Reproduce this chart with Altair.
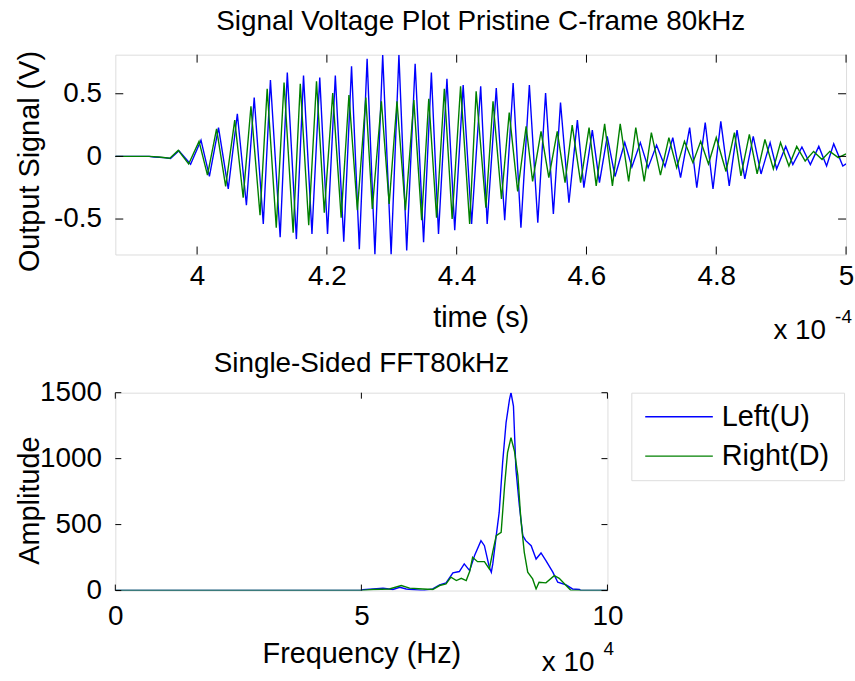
import altair as alt
import pandas as pd

# ---------------- data ----------------
# Top panel: time in units of 1e-4 s, output signal in V
left_t = [3.874, 3.926, 3.934, 3.949, 3.959, 3.972, 3.990, 4.006, 4.019, 4.033,
          4.048, 4.062, 4.076, 4.088, 4.102, 4.113, 4.128, 4.139, 4.153, 4.164,
          4.177, 4.189, 4.201, 4.213, 4.226, 4.238, 4.250, 4.262, 4.274, 4.286,
          4.299, 4.311, 4.323, 4.336, 4.349, 4.361, 4.372, 4.385, 4.397, 4.410,
          4.423, 4.437, 4.447, 4.461, 4.474, 4.487, 4.499, 4.512, 4.525, 4.537,
          4.549, 4.560, 4.573, 4.586, 4.596, 4.609, 4.620, 4.632, 4.644, 4.659,
          4.670, 4.683, 4.695, 4.708, 4.721, 4.733, 4.745, 4.759, 4.770, 4.783,
          4.795, 4.807, 4.820, 4.832, 4.844, 4.857, 4.869, 4.883, 4.893, 4.907,
          4.918, 4.932, 4.945, 4.958, 4.970, 4.981, 4.995, 5.000]
left_v = [0.0, 0.0, -0.005, -0.01, -0.016, 0.045, -0.063, 0.13, -0.16, 0.23,
          -0.26, 0.34, -0.39, 0.47, -0.54, 0.61, -0.645, 0.67, -0.66, 0.645,
          -0.62, 0.63, -0.62, 0.645, -0.68, 0.72, -0.74, 0.78, -0.783, 0.81,
          -0.783, 0.812, -0.75, 0.74, -0.685, 0.67, -0.62, 0.62, -0.59, 0.57,
          -0.54, 0.56, -0.54, 0.545, -0.51, 0.585, -0.57, 0.57, -0.53, 0.505,
          -0.46, 0.43, -0.37, 0.29, -0.25, 0.21, -0.21, 0.16, -0.16, 0.11,
          -0.085, 0.11, -0.09, 0.09, -0.08, 0.15, -0.17, 0.23, -0.25, 0.27,
          -0.26, 0.28, -0.235, 0.21, -0.18, 0.16, -0.14, 0.11, -0.10, 0.08,
          -0.065, 0.075, -0.065, 0.08, -0.077, 0.10, -0.077, -0.06]

right_t = [3.874, 3.926, 3.941, 3.958, 3.971, 3.987, 4.003, 4.016, 4.030, 4.044,
           4.058, 4.071, 4.083, 4.097, 4.108, 4.122, 4.134, 4.148, 4.159, 4.172,
           4.184, 4.196, 4.209, 4.222, 4.234, 4.247, 4.260, 4.270, 4.284, 4.296,
           4.308, 4.321, 4.334, 4.346, 4.357, 4.369, 4.381, 4.393, 4.406, 4.420,
           4.430, 4.445, 4.456, 4.469, 4.481, 4.494, 4.507, 4.517, 4.530, 4.542,
           4.555, 4.567, 4.578, 4.591, 4.604, 4.615, 4.628, 4.640, 4.652, 4.665,
           4.676, 4.689, 4.700, 4.714, 4.727, 4.739, 4.751, 4.764, 4.776, 4.788,
           4.800, 4.815, 4.828, 4.838, 4.851, 4.863, 4.875, 4.888, 4.899, 4.912,
           4.924, 4.937, 4.950, 4.963, 4.975, 4.988, 5.000]
right_v = [0.0, 0.0, -0.005, -0.015, 0.048, -0.06, 0.12, -0.15, 0.22, -0.24,
           0.29, -0.33, 0.40, -0.47, 0.54, -0.57, 0.59, -0.61, 0.58, -0.55,
           0.60, -0.45, 0.505, -0.49, 0.49, -0.43, 0.47, -0.42, 0.44, -0.38,
           0.44, -0.43, 0.45, -0.51, 0.46, -0.49, 0.54, -0.50, 0.56, -0.54,
           0.52, -0.41, 0.44, -0.34, 0.35, -0.28, 0.24, -0.20, 0.20, -0.17,
           0.20, -0.21, 0.25, -0.21, 0.23, -0.235, 0.26, -0.235, 0.26, -0.20,
           0.23, -0.20, 0.19, -0.15, 0.15, -0.09, 0.12, -0.05, 0.12, -0.06,
           0.15, -0.12, 0.19, -0.156, 0.175, -0.14, 0.135, -0.10, 0.11, -0.077,
           0.08, -0.037, 0.04, -0.024, 0.04, -0.01, 0.02]

# Bottom panel: frequency in units of 1e4 Hz, FFT amplitude
left_f = [0, 5.0, 5.03, 5.24, 5.44, 5.64, 5.78, 5.91, 6.25, 6.45, 6.59, 6.72,
          6.86, 6.99, 7.09, 7.20, 7.30, 7.43, 7.50, 7.60, 7.64, 7.67, 7.74,
          7.80, 7.87, 7.94, 8.01, 8.04, 8.09, 8.14, 8.21, 8.28, 8.34, 8.45,
          8.55, 8.65, 8.75, 8.89, 8.99, 9.16, 9.29, 9.43, 9.46, 10.0]
left_a = [0, 0, 7, 12, 18, 8, 25, 12, 0, 12, 43, 58,
          134, 144, 202, 151, 265, 378, 340, 176, 139, 202, 416,
          592, 970, 1273, 1449, 1500, 1399, 920, 643, 416, 378, 340,
          239, 285, 227, 139, 63, 43, 12, 8, 0, 0]

right_f = [0, 5.0, 5.24, 5.57, 5.81, 5.98, 6.25, 6.45, 6.59, 6.72, 6.82, 6.93,
           7.03, 7.13, 7.20, 7.26, 7.36, 7.50, 7.60, 7.67, 7.74, 7.84, 7.91,
           7.97, 8.04, 8.11, 8.18, 8.24, 8.31, 8.38, 8.48, 8.55, 8.61, 8.75,
           8.92, 9.02, 9.16, 9.26, 10.0]
right_a = [0, 0, 8, 12, 38, 18, 12, 8, 38, 50, 101, 76,
           93, 76, 144, 252, 219, 219, 164, 295, 416, 441, 794,
           1046, 1159, 1058, 869, 542, 290, 139, 88, 12, 63, 58,
           113, 93, 38, 0, 0]

series_names = ["Left(U)", "Right(D)"]
series_colors = ["#0000ff", "#008000"]

top_xticks = [4.0, 4.2, 4.4, 4.6, 4.8, 5.0]
top_yticks = [-0.5, 0, 0.5]
bot_xticks = [0, 5, 10]
bot_yticks = [0, 500, 1000, 1500]

top_title = "Signal Voltage Plot Pristine C-frame 80kHz"
bot_title = "Single-Sided FFT80kHz"

# ---------------- layout ----------------
FONT = "Liberation Sans"
LFS = 28   # tick labels
TFS = 29   # axis titles / legend
HFS = 28   # panel titles
W1, H1 = 735, 201
W2, H2 = 495, 199

lab_expr = "datum.value < 0 ? '-' + format(-datum.value, '~g') : format(datum.value, '~g')"


def axis(values, title, orient, lab_pad, title_pos):
    common = dict(values=values, title=title, ticks=False, domain=False, grid=False,
                  labelFontSize=LFS, titleFontSize=TFS, titleFontWeight="normal",
                  labelColor="black", titleColor="black", labelFlush=False,
                  labelOverlap=False, labelExpr=lab_expr, labelFont=FONT, titleFont=FONT)
    if orient == "x":
        return alt.Axis(labelPadding=lab_pad, titleY=63, titleBaseline="middle", **common)
    return alt.Axis(labelPadding=lab_pad, titleX=-86, titleY=title_pos,
                    titleBaseline="middle", titleAlign="center", **common)


def panel(series, xticks, yticks, xscale, yscale, xtitle, ytitle, W, H, L, xpad, ytpos):
    X = alt.X("x:Q", scale=xscale, axis=axis(xticks, xtitle, "x", xpad, None))
    Y = alt.Y("y:Q", scale=yscale, axis=axis(yticks, ytitle, "y", 14, ytpos))
    layers = []
    for df, color in series:
        layers.append(alt.Chart(df).mark_line(color=color, strokeWidth=1.4, clip=True)
                      .encode(x=X, y=Y))
    dx = pd.DataFrame({"x": xticks})
    dy = pd.DataFrame({"y": yticks})
    bx = alt.Chart(dx).mark_rule(color="black", strokeWidth=1)
    by = alt.Chart(dy).mark_rule(color="black", strokeWidth=1)
    layers += [
        bx.encode(x=X, y=alt.value(0), y2=alt.value(L)),
        bx.encode(x=X, y=alt.value(H - L), y2=alt.value(H)),
        by.encode(y=Y, x=alt.value(0), x2=alt.value(L)),
        by.encode(y=Y, x=alt.value(W - L), x2=alt.value(W)),
    ]
    return layers


def exponent(base_x, base_y, exp_text):
    a = alt.Chart(pd.DataFrame({"s": ["x 10"]})).mark_text(
        align="left", baseline="middle", fontSize=LFS, font=FONT, color="black"
    ).encode(text="s:N", x=alt.value(base_x), y=alt.value(base_y))
    b = alt.Chart(pd.DataFrame({"s": [exp_text]})).mark_text(
        align="left", baseline="middle", fontSize=19, font=FONT, color="black"
    ).encode(text="s:N", x=alt.value(base_x + 62), y=alt.value(base_y - 14))
    return [a, b]


# ---------------- top panel ----------------
xs1 = alt.Scale(domain=[3.874, 5.0], nice=False, zero=False)
ys1 = alt.Scale(domain=[-0.783, 0.812], nice=False, zero=False)
top_layers = panel(
    [(pd.DataFrame({"x": left_t, "y": left_v}), series_colors[0]),
     (pd.DataFrame({"x": right_t, "y": right_v}), series_colors[1])],
    top_xticks, top_yticks, xs1, ys1, "time (s)", "Output Signal (V)", W1, H1, 8, 8, 107)
top = alt.layer(*top_layers, *exponent(662, H1 + 77, "-4")).properties(
    width=W1, height=H1,
    title=alt.TitleParams(top_title, fontSize=HFS, fontWeight="normal", font=FONT,
                          anchor="middle", frame="group", offset=15, color="black"),
)

# ---------------- bottom panel ----------------
xs2 = alt.Scale(domain=[0, 10], nice=False, zero=False)
ys2 = alt.Scale(domain=[0, 1500], nice=False, zero=False)
bot_layers = panel(
    [(pd.DataFrame({"x": left_f, "y": left_a}), series_colors[0]),
     (pd.DataFrame({"x": right_f, "y": right_a}), series_colors[1])],
    bot_xticks, bot_yticks, xs2, ys2, "Frequency (Hz)", "Amplitude", W2, H2, 6, 12, 108)
bottom = alt.layer(*bot_layers, *exponent(429, H2 + 73, "4")).properties(
    width=W2, height=H2,
    title=alt.TitleParams(bot_title, fontSize=HFS, fontWeight="normal", font=FONT,
                          anchor="middle", frame="group", offset=1, color="black"),
)

# ---------------- legend box ----------------
leg_df = pd.DataFrame({"series": series_names})
leg_y = alt.Y("series:N", scale=alt.Scale(type="point", domain=series_names, padding=0.61), axis=None)
leg_c = alt.Color("series:N", scale=alt.Scale(domain=series_names, range=series_colors), legend=None)
legend = alt.layer(
    alt.Chart(leg_df).mark_rule(strokeWidth=1.4).encode(
        y=leg_y, x=alt.value(14), x2=alt.value(82), color=leg_c),
    alt.Chart(leg_df).mark_text(align="left", baseline="middle", fontSize=TFS, font=FONT,
                                color="black").encode(
        y=leg_y, x=alt.value(91), text="series:N"),
).properties(width=214, height=88)

row = alt.hconcat(bottom, legend, spacing=24, bounds="flush")

chart = alt.vconcat(top, row, spacing=139, bounds="flush").properties(
    padding={"left": 15, "top": 5, "right": 0, "bottom": 0},
    background="white",
).configure_view(stroke="black", strokeWidth=1.5).configure(font=FONT)

chart.save("out.html", embed_options={"renderer": "svg", "actions": False})
